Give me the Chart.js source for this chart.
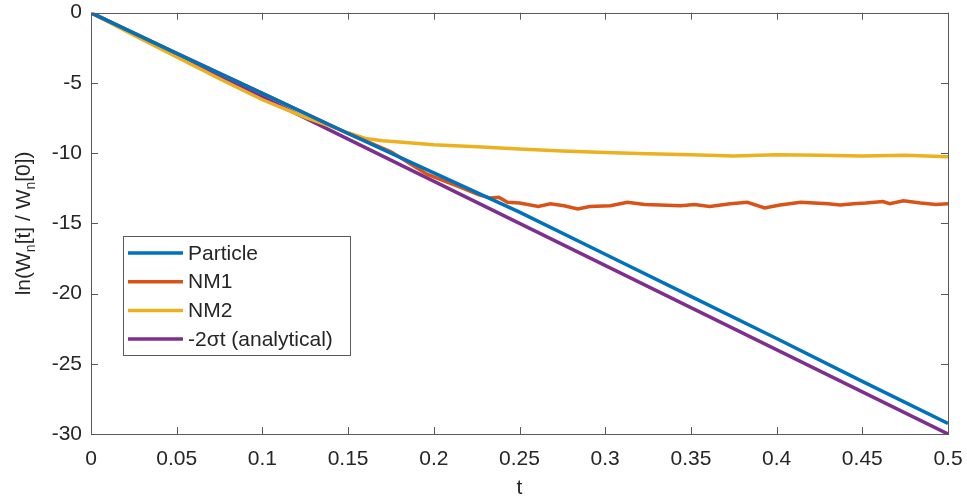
<!DOCTYPE html>
<html>
<head>
<meta charset="utf-8">
<script src="https://cdn.jsdelivr.net/npm/chart.js@4/dist/chart.umd.min.js"></script>
<style>
html,body{margin:0;padding:0;background:#fff}
#wrap{width:967px;height:501px}
</style>
</head>
<body>
<div id="wrap"><canvas id="c" width="967" height="501"></canvas></div>
<script>
// series, read as (t, value) pairs
const particleT=[0,0.05,0.1,0.15,0.2,0.25,0.3,0.35,0.4,0.45,0.5];
const particleV=[0,-2.9,-5.75,-8.6,-11.4,-14.2,-17.2,-20.2,-23.2,-26.25,-29.25];

const nm1T=[0,0.05,0.1,0.15,0.175,0.196,0.215,0.226,0.233,0.238,0.243,0.25,0.261,0.268,0.276,0.284,0.291,0.303,0.313,0.323,0.332,0.344,0.352,0.361,0.373,0.383,0.393,0.402,0.414,0.422,0.43,0.437,0.445,0.452,0.462,0.466,0.474,0.484,0.493,0.5];
const nm1V=[0,-2.9,-5.75,-8.6,-9.9,-11.5,-12.4,-12.95,-13.2,-13.15,-13.5,-13.55,-13.8,-13.6,-13.75,-13.97,-13.8,-13.75,-13.5,-13.65,-13.7,-13.75,-13.65,-13.8,-13.6,-13.5,-13.9,-13.7,-13.5,-13.55,-13.6,-13.7,-13.6,-13.55,-13.45,-13.6,-13.4,-13.55,-13.65,-13.6];

const nm2T=[0,0.025,0.05,0.075,0.1,0.125,0.14,0.15,0.16,0.17,0.18,0.2,0.225,0.25,0.275,0.3,0.325,0.35,0.375,0.4,0.425,0.45,0.475,0.5];
const nm2V=[0,-1.6,-3.15,-4.7,-6.2,-7.45,-8.1,-8.55,-8.95,-9.12,-9.2,-9.4,-9.55,-9.7,-9.85,-9.95,-10.05,-10.12,-10.2,-10.12,-10.15,-10.2,-10.15,-10.25];

const exactT=[0,0.5];
const exactV=[0,-30];

const xTicks=[0,0.05,0.1,0.15,0.2,0.25,0.3,0.35,0.4,0.45,0.5];
const yTicks=[-30,-25,-20,-15,-10,-5,0];

const FONT='"Liberation Sans", Arial, Helvetica, sans-serif';
const AX='#262626';

const pts=(ts,vs)=>ts.map((t,i)=>({x:t,y:vs[i]}));
const series=[
  {label:'Particle',data:pts(particleT,particleV),color:'#0072BD'},
  {label:'NM1',data:pts(nm1T,nm1V),color:'#D95319'},
  {label:'NM2',data:pts(nm2T,nm2V),color:'#EDB120'},
  {label:'-2\u03C3t (analytical)',data:pts(exactT,exactV),color:'#7E2F8E'}
];

// box with inward ticks on all four sides
const frame={
  id:'frame',
  afterDraw(chart){
    const {ctx,chartArea:a,scales:{x,y}}=chart;
    ctx.save();
    ctx.strokeStyle='#5a5a5a';ctx.lineWidth=1;
    ctx.strokeRect(Math.round(a.left)+0.5,Math.round(a.top)+0.5,Math.round(a.right-a.left),Math.round(a.bottom-a.top));
    ctx.beginPath();
    const L=7;
    xTicks.forEach(v=>{
      const px=Math.round(x.getPixelForValue(v))+0.5;
      ctx.moveTo(px,a.bottom);ctx.lineTo(px,a.bottom-L);
      ctx.moveTo(px,a.top);ctx.lineTo(px,a.top+L);
    });
    yTicks.forEach(v=>{
      const py=Math.round(y.getPixelForValue(v))+0.5;
      ctx.moveTo(a.left,py);ctx.lineTo(a.left+L,py);
      ctx.moveTo(a.right,py);ctx.lineTo(a.right-L,py);
    });
    ctx.stroke();

    // y label with subscripts
    const parts=[['ln(W',0],['n',1],['[t] / W',0],['n',1],['[0])',0]];
    const big='21px '+FONT,small='14px '+FONT;
    let w=0;
    parts.forEach(p=>{ctx.font=p[1]?small:big;w+=ctx.measureText(p[0]).width;});
    ctx.translate(24,(a.top+a.bottom)/2);
    ctx.rotate(-Math.PI/2);
    ctx.fillStyle=AX;ctx.textBaseline='middle';ctx.textAlign='left';
    let cx=-w/2;
    parts.forEach(p=>{
      ctx.font=p[1]?small:big;
      ctx.fillText(p[0],cx,p[1]?7:0);
      cx+=ctx.measureText(p[0]).width;
    });
    ctx.restore();

    // legend
    ctx.save();
    const lx=123,ly=236,lw=227,lh=119;
    ctx.fillStyle='#fff';ctx.fillRect(lx,ly,lw,lh);
    ctx.strokeStyle='#5a5a5a';ctx.lineWidth=1;
    ctx.strokeRect(lx+0.5,ly+0.5,lw,lh);
    ctx.font='21px '+FONT;ctx.textBaseline='middle';ctx.fillStyle=AX;
    chart.data.datasets.forEach((ds,i)=>{
      const yy=ly+17+i*28.7;
      ctx.strokeStyle=ds.borderColor;ctx.lineWidth=3.5;
      ctx.beginPath();ctx.moveTo(lx+5,yy);ctx.lineTo(lx+60,yy);ctx.stroke();
      ctx.fillText(ds.label,lx+65,yy+1);
    });
    ctx.restore();
  }
};

new Chart(document.getElementById('c'),{
  type:'line',
  data:{datasets:series.map(s=>({label:s.label,data:s.data,borderColor:s.color,backgroundColor:s.color,borderWidth:3.5,pointRadius:0,tension:0,fill:false}))},
  options:{
    responsive:false,animation:false,
    layout:{padding:{top:12.7,right:19,left:0,bottom:0}},
    plugins:{legend:{display:false},tooltip:{enabled:false}},
    scales:{
      x:{type:'linear',min:0,max:0.5,
        afterBuildTicks:s=>{s.ticks=xTicks.map(v=>({value:v}));},
        afterFit:s=>{s.height=67;s.paddingLeft=0;s.paddingRight=0;},
        grid:{display:false,drawTicks:false},border:{display:false},
        ticks:{color:AX,font:{size:21,family:FONT},padding:13,maxRotation:0,
          callback:v=>String(Number(v.toFixed(2)))},
        title:{display:true,text:'t',color:AX,font:{size:21,family:FONT},padding:{top:0,bottom:0}}
      },
      y:{type:'linear',min:-30,max:0,
        afterBuildTicks:s=>{s.ticks=yTicks.map(v=>({value:v}));},
        afterFit:s=>{s.width=91;s.paddingTop=0;s.paddingBottom=0;},
        grid:{display:false,drawTicks:false},border:{display:false},
        ticks:{color:AX,font:{size:21,family:FONT},padding:9}
      }
    }
  },
  plugins:[frame]
});
</script>
</body>
</html>
